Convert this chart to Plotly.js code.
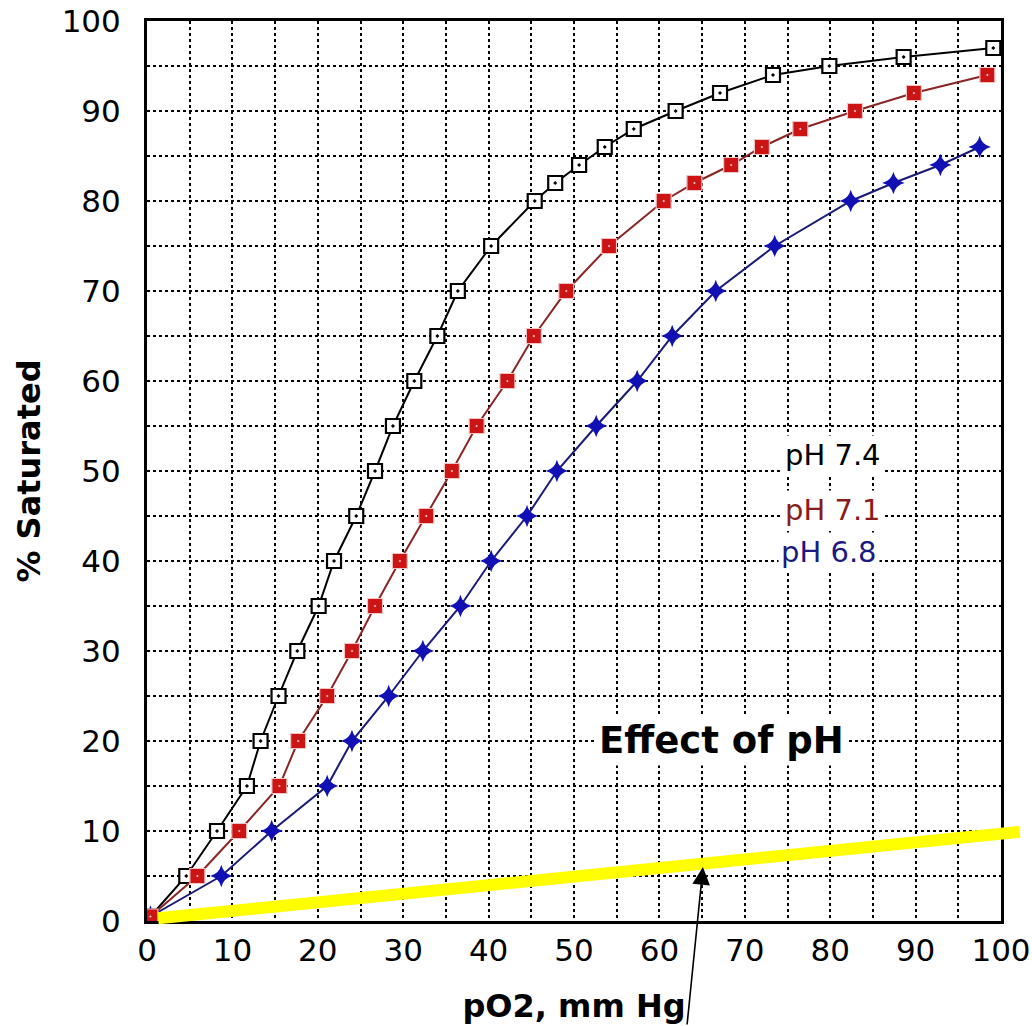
<!DOCTYPE html>
<html>
<head>
<meta charset="utf-8">
<script src="https://cdn.plot.ly/plotly-3.0.1.min.js"></script>
<style>html,body{margin:0;padding:0;background:#fff;}#chart{width:1032px;height:1026px;}</style>
</head>
<body>
<div id="chart"></div>
<script>
// pO2 (mm Hg) and % saturation for each pH curve
const po2_ph74 = [0.4, 4.6, 8.2, 11.7, 13.3, 15.4, 17.6, 20.1, 21.9, 24.5, 26.7, 28.8, 31.3, 34.0, 36.4, 40.3, 45.4, 47.8, 50.6, 53.6, 57.0, 61.9, 67.1, 73.3, 79.9, 88.6, 99.1];
const sat_ph74 = [0.5, 5, 10, 15, 20, 25, 30, 35, 40, 45, 50, 55, 60, 65, 70, 75, 80, 82, 84, 86, 88, 90, 92, 94, 95, 96, 97];

const po2_ph71 = [0.4, 5.9, 10.8, 15.5, 17.7, 21.1, 24.0, 26.7, 29.6, 32.7, 35.7, 38.6, 42.2, 45.3, 49.1, 54.1, 60.5, 64.1, 68.4, 72.0, 76.5, 82.9, 89.8, 98.4];
const sat_ph71 = [0.5, 5, 10, 15, 20, 25, 30, 35, 40, 45, 50, 55, 60, 65, 70, 75, 80, 82, 84, 86, 88, 90, 92, 94];

const po2_ph68 = [0.4, 8.7, 14.6, 21.1, 24.0, 28.3, 32.3, 36.7, 40.3, 44.5, 48.0, 52.6, 57.4, 61.5, 66.6, 73.5, 82.4, 87.4, 92.9, 97.5];
const sat_ph68 = [0.5, 5, 10, 15, 20, 25, 30, 35, 40, 45, 50, 55, 60, 65, 70, 75, 80, 82, 84, 86];

const seriesLabels = ['pH 7.4', 'pH 7.1', 'pH 6.8'];
const labelX = [80.3, 80.3, 79.9];
const labelY = [51.8, 45.7, 41.0];

const xRange = [0, 100];
const yRange = [0, 100];

// yellow highlight line endpoints (data units) and arrow target
const yellowX = [1.3, 102.2];
const yellowY = [0.3, 9.9];
const arrowX = 65.1, arrowY = 6.0;

const titleText = 'Effect of pH';
const titleX = 67.3, titleY = 20.1;

const FONT = 'DejaVu Sans, Liberation Sans, Arial, sans-serif';

const trace74 = {x: po2_ph74, y: sat_ph74, mode: 'lines+markers', name: seriesLabels[0],
   line: {color: '#000000', width: 2},
   marker: {symbol: 'square-dot', size: 14, color: '#ffffff', line: {color: '#000000', width: 2.2}}};
const trace71 = {x: po2_ph71, y: sat_ph71, mode: 'lines+markers', name: seriesLabels[1],
   line: {color: '#8b2424', width: 2},
   marker: {symbol: 'square-dot', size: 15, color: '#cc1414', line: {color: '#f3c4c4', width: 1.2}}};
const trace68 = {x: po2_ph68, y: sat_ph68, mode: 'lines+markers', name: seriesLabels[2],
   line: {color: '#1a1a78', width: 2},
   marker: {symbol: 'star-diamond', size: 16, color: '#1010b4', line: {width: 0}}};
const traces = [trace74, trace68, trace71];

const labelColors = ['#000000', '#8b1c1c', '#1a1a80'];
const annotations = seriesLabels.map((t, i) => ({
  x: labelX[i], y: labelY[i], xref: 'x', yref: 'y', text: t, showarrow: false,
  font: {family: FONT, size: 29, color: labelColors[i]}, bgcolor: '#ffffff', borderpad: 2
}));
annotations.push({
  x: titleX, y: titleY, xref: 'x', yref: 'y', text: '<b>' + titleText + '</b>', showarrow: false,
  font: {family: FONT, size: 37, color: '#000000'}, bgcolor: '#ffffff', borderpad: 3
});
annotations.push({
  x: arrowX, y: arrowY, xref: 'x', yref: 'y', text: '', showarrow: true,
  ax: -16, ay: 175, arrowhead: 2, arrowsize: 2.2, arrowwidth: 1.6, arrowcolor: '#000000', standoff: 0
});

const xSpan = xRange[1] - xRange[0], ySpan = yRange[1] - yRange[0];
const shapes = [{
  type: 'line', layer: 'above',
  xref: 'x domain', yref: 'y domain',
  x0: (yellowX[0] - xRange[0]) / xSpan, x1: (yellowX[1] - xRange[0]) / xSpan,
  y0: (yellowY[0] - yRange[0]) / ySpan, y1: (yellowY[1] - yRange[0]) / ySpan,
  line: {color: '#ffff00', width: 12}
}];

const axisCommon = {
  tickmode: 'linear', tick0: 0, dtick: 10,
  showgrid: true, gridcolor: '#000000', griddash: 'dot', gridwidth: 2,
  minor: {tickmode: 'linear', tick0: 0, dtick: 5, showgrid: true, gridcolor: '#000000', griddash: 'dot', gridwidth: 2},
  showline: true, linecolor: '#000000', linewidth: 3, mirror: true,
  zeroline: false, ticks: '',
  tickfont: {family: FONT, size: 31, color: '#000000'}
};

const layout = {
  width: 1032, height: 1026,
  margin: {l: 147, r: 31, t: 21, b: 105},
  paper_bgcolor: '#ffffff', plot_bgcolor: '#ffffff',
  showlegend: false,
  xaxis: Object.assign({}, axisCommon, {
    range: xRange, ticklabelstandoff: 0,
    title: {text: '<b>pO2, mm Hg</b>', font: {family: FONT, size: 32, color: '#000000'}, standoff: 28}
  }),
  yaxis: Object.assign({}, axisCommon, {
    range: yRange, ticklabelstandoff: 17,
    title: {text: '<b>% Saturated</b>', font: {family: FONT, size: 32, color: '#000000'}, standoff: 12}
  }),
  annotations: annotations,
  shapes: shapes
};

Plotly.newPlot('chart', traces, layout, {displayModeBar: false, staticPlot: true});
</script>
</body>
</html>
